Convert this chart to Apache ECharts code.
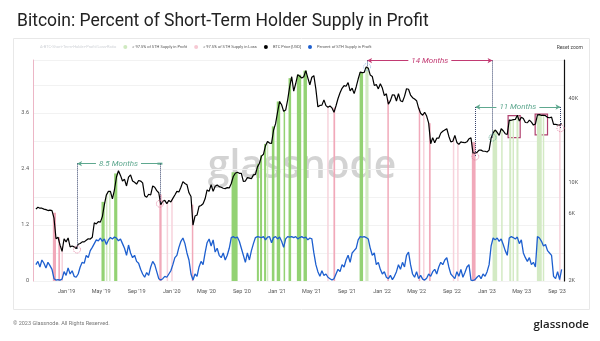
<!DOCTYPE html>
<html><head><meta charset="utf-8">
<script src="https://cdn.jsdelivr.net/npm/echarts@6/dist/echarts.min.js"></script>
<style>html,body{margin:0;padding:0;background:#fff;}#c{width:600px;height:341px;}</style>
</head><body><div id="c"></div>
<script>
// ---------- DATA ----------
const weekStart = '2018-09-16'; // weekly samples from this date
const btcPrice = [
 6500,6700,6600,6600,6500,6450,6350,6400,6350,5600,4000,4100,3600,3250,4000,3800,
 4050,3500,3550,3500,3400,3650,3700,3800,3800,3900,4000,3980,4100,5200,5100,5300,5250,5750,7000,8200,8700,8700,7700,8900,11000,12200,11300,10300,10600,9500,11000,11400,10300,10100,9800,10400,10300,10000,8100,7900,8300,8200,9500,9300,8800,8500,7000,7400,7500,7100,7500,7300,
 7750,8200,8700,8600,9300,10200,9900,9700,8500,8000,5000,5800,5900,6800,6900,7100,7700,8900,8700,9700,8700,9450,9650,9400,9300,9150,9100,9250,9200,9900,11100,11700,11900,11700,11700,10250,10300,10900,10800,10700,11400,11500,13000,13800,15500,16000,18400,19700,19200,19100,23800,26400,
 32000,38000,36000,32300,33000,39000,48500,57000,45000,51000,59000,57500,55800,57000,63000,56000,50000,56500,58000,46500,34800,35600,35800,39000,35500,34600,35300,34200,31800,35400,39900,43800,47100,49300,48800,51800,45200,47200,43200,48200,54900,61500,60900,61300,67000,65500,58600,57300,49400,50100,46700,50800,
 47300,41800,43100,36300,38500,42400,42200,38300,43200,38400,37800,41300,46800,46400,42200,40400,39500,38500,34100,31300,30300,31800,29900,26600,19000,21000,19300,20800,20800,22600,23300,23800,24300,21500,19600,19800,21800,19400,18800,19600,19400,19300,19600,20600,20900,16300,16300,16500,17100,17100,16800,16800,
 16600,17100,20900,22700,23800,22900,21800,24300,23500,22400,22100,28000,27900,28200,28300,30300,27600,29300,28700,26900,26800,28000,27100,25800,26300,30500,30600,30200,30300,30100,29300,29100,29400,26100,26100,25900,25800,26500
];
const sthInProfit = [
 0.35,0.42,0.3,0.45,0.38,0.28,0.4,0.33,0.25,
 0.05,0.02,0.03,0.02,0.04,
 0.2,0.12,0.28,0.15,0.22,0.1,0.08,
 0.15,0.3,0.4,0.38,0.55,0.5,0.65,0.72,
 0.8,0.88,0.86,0.92,0.85,0.9,0.78,0.88,0.93,0.9,0.94,0.92,0.86,0.9,0.8,
 0.7,0.55,0.77,0.6,0.5,0.55,0.42,0.38,0.25,
 0.15,0.08,0.18,0.12,
 0.3,0.42,0.35,0.2,0.05,
 0.02,0.05,0.1,
 0.08,0.15,0.22,0.35,0.5,
 0.55,0.72,0.85,0.92,0.8,0.6,0.45,0.15,
 0.02,0.15,0.1,0.3,0.42,0.35,0.6,0.82,
 0.9,0.75,0.88,0.62,0.7,0.55,
 0.5,0.6,0.45,0.55,0.7,
 0.93,0.95,0.92,0.94,0.85,
 0.7,0.55,0.4,0.6,0.45,0.65,
 0.8,0.93,
 0.95,0.94,0.93,0.95,0.88,0.94,0.95,0.82,0.93,0.95,0.9,0.94,0.85,
 0.72,
 0.9,0.95,0.94,0.95,0.93,0.95,0.9,0.93,0.95,0.92,0.94,0.88,0.92,0.9,
 0.6,0.35,
 0.2,0.1,0.22,0.12,0.15,0.08,0.05,0.02,
 0.05,0.15,0.25,0.2,0.35,0.3,0.45,0.55,0.4,0.6,0.65,0.7,
 0.88,0.95,0.94,0.95,0.93,0.9,
 0.7,0.55,0.6,0.35,0.4,0.25,
 0.15,0.2,0.08,0.05,0.12,0.03,0.1,0.2,
 0.35,0.25,0.4,
 0.3,0.55,0.62,0.35,
 0.15,0.08,0.2,0.05,0.12,0.04,0.02,0.06,0.15,0.1,0.2,
 0.25,0.15,0.3,0.4,0.35,0.45,0.5,0.3,0.15,0.1,
 0.05,0.2,0.1,0.25,0.08,0.18,0.3,0.35,0.02,0.01,
 0.03,0.08,0.12,0.05,0.15,0.1,0.2,0.35,
 0.75,0.92,0.88,0.92,0.85,0.9,0.78,0.65,
 0.55,
 0.92,0.95,0.93,0.9,0.94,0.8,0.88,
 0.6,0.5,0.42,0.5,0.35,0.4,0.3,
 0.95,0.92,0.85,0.75,0.78,0.65,0.6,0.55,
 0.1,0.05,0.2,0.03,0.25
];
// periods with > 97.5% of STH supply in profit / in loss
const profitBands = [
 ['2019-05-02','2019-05-13'],['2019-06-15','2019-06-26'],['2020-07-27','2020-08-17'],
 ['2020-10-23','2020-10-30'],['2020-11-03','2020-11-10'],['2020-11-17','2020-11-24'],
 ['2020-12-14','2020-12-23'],['2020-12-31','2021-01-12'],['2021-01-24','2021-01-29'],
 ['2021-02-10','2021-02-19'],['2021-03-11','2021-03-26'],['2021-04-03','2021-04-15'],
 ['2021-10-15','2021-10-27']
];
const profitBandsFaint = [
 ['2019-05-19','2019-05-21'],['2019-05-30','2019-06-01'],['2020-11-28','2020-11-30'],
 ['2021-11-04','2021-11-15'],['2023-01-20','2023-02-05'],['2023-02-20','2023-02-23'],
 ['2023-03-19','2023-03-26'],['2023-04-01','2023-04-03'],['2023-04-13','2023-04-20'],
 ['2023-06-23','2023-07-10'],['2023-07-15','2023-07-17']
];
const lossBands = [
 ['2018-11-14','2018-11-25'],['2018-12-03','2018-12-09'],['2019-11-19','2019-11-27'],
 ['2020-03-11','2020-03-16'],['2021-07-16','2021-07-22'],['2022-01-21','2022-01-23'],
 ['2022-05-09','2022-05-13'],['2022-06-13','2022-06-19'],['2022-11-09','2022-11-22']
];
const lossBandsFaint = [
 ['2018-12-15','2018-12-18'],['2019-12-16','2019-12-18'],['2020-01-01','2020-01-03'],
 ['2021-06-26','2021-06-28'],['2022-05-25','2022-05-27'],['2022-09-06','2022-09-07'],
 ['2022-09-21','2022-09-22'],['2023-09-10','2023-09-12']
];
const xTickDates = ['2019-01-01','2019-05-01','2019-09-01','2020-01-01','2020-05-01','2020-09-01','2021-01-01','2021-05-01','2021-09-01','2022-01-01','2022-05-01','2022-09-01','2023-01-01','2023-05-01','2023-09-01'];
const xTickLabels = ["Jan '19","May '19","Sep '19","Jan '20","May '20","Sep '20","Jan '21","May '21","Sep '21","Jan '22","May '22","Sep '22","Jan '23","May '23","Sep '23"];
const leftTicks = [0, 1.2, 2.4, 3.6];
const rightTicks = [2000, 6000, 10000, 40000];
const rightTickLabels = ['2K', '6K', '10K', '40K'];
const annotations = [
 {label:'8.5 Months', from:'2019-02-06', to:'2019-11-21', level:13700, fromPrice:3350, toPrice:7100, tone:'green', endMark:'bar'},
 {label:'14 Months', from:'2021-11-10', to:'2023-01-20', level:74300, fromPrice:67000, toPrice:21000, tone:'red', endMark:'arrow'},
 {label:'11 Months', from:'2022-11-21', to:'2023-09-13', level:34700, fromPrice:15400, toPrice:24500, tone:'green', endMark:'arrow'}
];
const circles = [
 {date:'2019-02-06', price:3350, tone:'pink'},
 {date:'2019-11-21', price:7100, tone:'pink'},
 {date:'2021-11-10', price:67000, tone:'blue'},
 {date:'2022-11-21', price:15400, tone:'pink'},
 {date:'2023-01-20', price:21000, tone:'green'},
 {date:'2023-09-13', price:24500, tone:'pink'}
];
const boxes = [
 {from:'2023-03-15', to:'2023-04-26', hi:30100, lo:21000},
 {from:'2023-06-17', to:'2023-07-30', hi:30900, lo:22000}
];

// ---------- HELPERS ----------
const DAY = 864e5;
function ts(s){ const p = s.split('-').map(Number); return Date.UTC(p[0], p[1]-1, p[2]); }
const t0 = ts(weekStart);
const weekTs = btcPrice.map((_, i) => t0 + i * 7 * DAY);
function priceAt(t){
  if (t <= weekTs[0]) return btcPrice[0];
  const n = weekTs.length - 1;
  if (t >= weekTs[n]) return btcPrice[n];
  const i = Math.floor((t - weekTs[0]) / (7 * DAY));
  const f = (t - weekTs[i]) / (weekTs[i+1] - weekTs[i]);
  return btcPrice[i] * Math.pow(btcPrice[i+1] / btcPrice[i], f);
}
function bandTop(b){
  let m = 0;
  for (let t = ts(b[0]) - DAY; t <= ts(b[1]) + DAY; t += DAY) m = Math.max(m, priceAt(t));
  return m;
}
const toneColor = {green:'#5ea88f', red:'#c23a72', pink:'#e07f9e', blue:'#8fb8e0'};
const xTickTs = xTickDates.map(ts);

function bandSeries(name, strong, faint, cStrong, cFaint){
  const data = strong.map(b => [ts(b[0]), ts(b[1]), bandTop(b), 1])
    .concat(faint.map(b => [ts(b[0]), ts(b[1]), bandTop(b), 0]));
  return {
    type:'custom', name, xAxisIndex:0, yAxisIndex:1, z:1, silent:true,
    itemStyle:{color:cStrong},
    encode:{x:[0,1], y:2},
    renderItem(params, api){
      const s = api.coord([api.value(0), api.value(2)]);
      const e = api.coord([api.value(1), api.value(2)]);
      const cs = params.coordSys;
      const bottom = cs.y + cs.height;
      const raw = e[0] - s[0];
      const w = Math.max(raw, 1.5);
      const top = Math.max(s[1], cs.y);
      return {type:'rect', shape:{x: s[0] - (w - raw) / 2, y: top, width: w, height: bottom - top},
        style:{fill: api.value(3) ? cStrong : cFaint}};
    },
    data
  };
}

// ---------- ANNOTATIONS ----------
const mlData = [];
annotations.forEach(a => {
  const col = toneColor[a.tone];
  mlData.push([
    {coord:[ts(a.from), a.level], symbol:'arrow', symbolSize:[4,5], lineStyle:{color:col, width:1, type:'solid'}},
    {coord:[ts(a.to), a.level], symbol: a.endMark === 'bar' ? 'rect' : 'arrow', symbolSize: a.endMark === 'bar' ? [2,5] : [4,5]}
  ]);
  mlData.push([
    {coord:[ts(a.from), a.level], symbol:'none', lineStyle:{color:'#34406a', width:1, type:'dotted'}},
    {coord:[ts(a.from), a.fromPrice], symbol:'none'}
  ]);
  mlData.push([
    {coord:[ts(a.to), a.level], symbol:'none', lineStyle:{color:'#34406a', width:1, type:'dotted'}},
    {coord:[ts(a.to), a.toPrice], symbol:'none'}
  ]);
});
const mpData = annotations.map(a => ({
  coord:[(ts(a.from) + ts(a.to)) / 2, a.level], symbol:'rect', symbolSize:[1,1],
  itemStyle:{color:'rgba(0,0,0,0)'},
  label:{show:true, position:'inside', formatter:a.label, color:toneColor[a.tone], fontSize:8,
    fontStyle:'italic', fontFamily:'Roboto', backgroundColor:'#fff', padding:[1,3]}
})).concat(circles.map(c => ({
  coord:[ts(c.date), c.price], symbol:'circle', symbolSize:7,
  itemStyle:{color:'rgba(255,255,255,0)', borderColor:toneColor[c.tone], borderWidth:1, borderType:'dotted'},
  label:{show:false}
})));
const maData = boxes.map(b => [{coord:[ts(b.from), b.hi]}, {coord:[ts(b.to), b.lo]}]);

// ---------- CHART ----------
const chart = echarts.init(document.getElementById('c'), null, {renderer:'canvas'});
chart.setOption({
  animation:false,
  textStyle:{fontFamily:'Roboto'},
  title:{text:'Bitcoin: Percent of Short-Term Holder Supply in Profit', left:12, top:8,
    textStyle:{fontSize:17.5, fontWeight:'normal', color:'#222', fontFamily:'Roboto'}},
  legend:{left:31, top:45, padding:0, itemWidth:4, itemHeight:4, itemGap:7,
    textStyle:{fontSize:4, color:'#555'},
    selected:{'A-BTC-Short-Term-Holder-Profit/Loss-Ratio': false},
    data:[
      {name:'A-BTC-Short-Term-Holder-Profit/Loss-Ratio', icon:'rect', itemStyle:{opacity:0}},
      {name:'> 97.5% of STH Supply in Profit', icon:'circle', itemStyle:{color:'#cfe9c0'}},
      {name:'> 97.5% of STH Supply in Loss', icon:'circle', itemStyle:{color:'#f6c9d3'}},
      {name:'BTC Price [USD]', icon:'circle'},
      {name:'Percent of STH Supply in Profit', icon:'circle'}
    ]},
  grid:{left:33, right:35.5, top:60, bottom:60},
  xAxis:{type:'value', min:ts('2018-09-06'), max:ts('2023-09-27'), interval: 30 * DAY,
    axisLine:{show:false}, axisTick:{show:false}, splitLine:{show:false},
    axisLabel:{customValues: xTickTs, fontSize:5.5, color:'#555', margin:8,
      formatter:(v) => { const i = xTickTs.indexOf(v); return i >= 0 ? xTickLabels[i] : ''; }}},
  yAxis:[
    {type:'value', position:'left', min:0, max:4.73, interval:0.6,
      axisLine:{show:true, lineStyle:{color:'#ecb6c6', width:1}}, axisTick:{show:false},
      splitLine:{show:true, lineStyle:{color:'#f2f2f2', width:1}},
      axisLabel:{customValues:leftTicks, fontSize:5.5, color:'#555', margin:4,
        formatter:(v) => v === 0 ? '0' : v.toFixed(1)}},
    {type:'log', logBase:10, position:'right', min:2000, max:75000,
      axisLine:{show:true, lineStyle:{color:'#111', width:1.2}}, axisTick:{show:false},
      splitLine:{show:false},
      axisLabel:{customValues:rightTicks, fontSize:5.5, color:'#555', margin:4,
        formatter:(v) => { const i = rightTicks.indexOf(Math.round(v)); return i >= 0 ? rightTickLabels[i] : ''; }}}
  ],
  graphic:[
    {type:'rect', z:-10, shape:{x:13.5, y:38.5, width:576, height:271}, style:{fill:'none', stroke:'#e8e8e8', lineWidth:1}},
    {type:'text', z:0, x:302, y:167, style:{text:'glassnode', fontSize:39, fontFamily:'Open Sans', fontWeight:600, fill:'rgba(110,110,110,0.3)', align:'center', verticalAlign:'middle'}},
    {type:'text', x:583, y:47.5, style:{text:'Reset zoom', fontSize:5, fill:'#444', align:'right', verticalAlign:'middle', fontFamily:'Roboto'}},
    {type:'text', x:13, y:324, style:{text:'© 2023 Glassnode. All Rights Reserved.', fontSize:5.5, fill:'#777', verticalAlign:'middle', fontFamily:'Roboto'}},
    {type:'text', x:589, y:325, style:{text:'glassnode', fontSize:11.5, fontWeight:600, fill:'#222', align:'right', verticalAlign:'middle', fontFamily:'Open Sans'}}
  ],
  series:[
    {type:'line', name:'A-BTC-Short-Term-Holder-Profit/Loss-Ratio', data:[], yAxisIndex:0, itemStyle:{color:'#999'}},
    bandSeries('> 97.5% of STH Supply in Profit', profitBands, profitBandsFaint, '#93d273', '#d3eac4'),
    bandSeries('> 97.5% of STH Supply in Loss', lossBands, lossBandsFaint, '#f1a9ba', '#f7d3dc'),
    {type:'line', name:'Percent of STH Supply in Profit', yAxisIndex:0, z:3, showSymbol:false,
      itemStyle:{color:'#1d5fcf'}, lineStyle:{color:'#1d5fcf', width:1.3},
      data: sthInProfit.map((v, i) => [weekTs[i], v])},
    {type:'line', name:'BTC Price [USD]', yAxisIndex:1, z:4, showSymbol:false,
      itemStyle:{color:'#000'}, lineStyle:{color:'#000', width:1.2},
      data: btcPrice.map((v, i) => [weekTs[i], v]),
      markLine:{silent:true, animation:false, label:{show:false}, data: mlData},
      markPoint:{silent:true, animation:false, z:10, data: mpData},
      markArea:{silent:true, itemStyle:{color:'rgba(0,0,0,0)', borderColor:'#b0406e', borderWidth:1.2}, data: maData}}
  ]
});
</script></body></html>
